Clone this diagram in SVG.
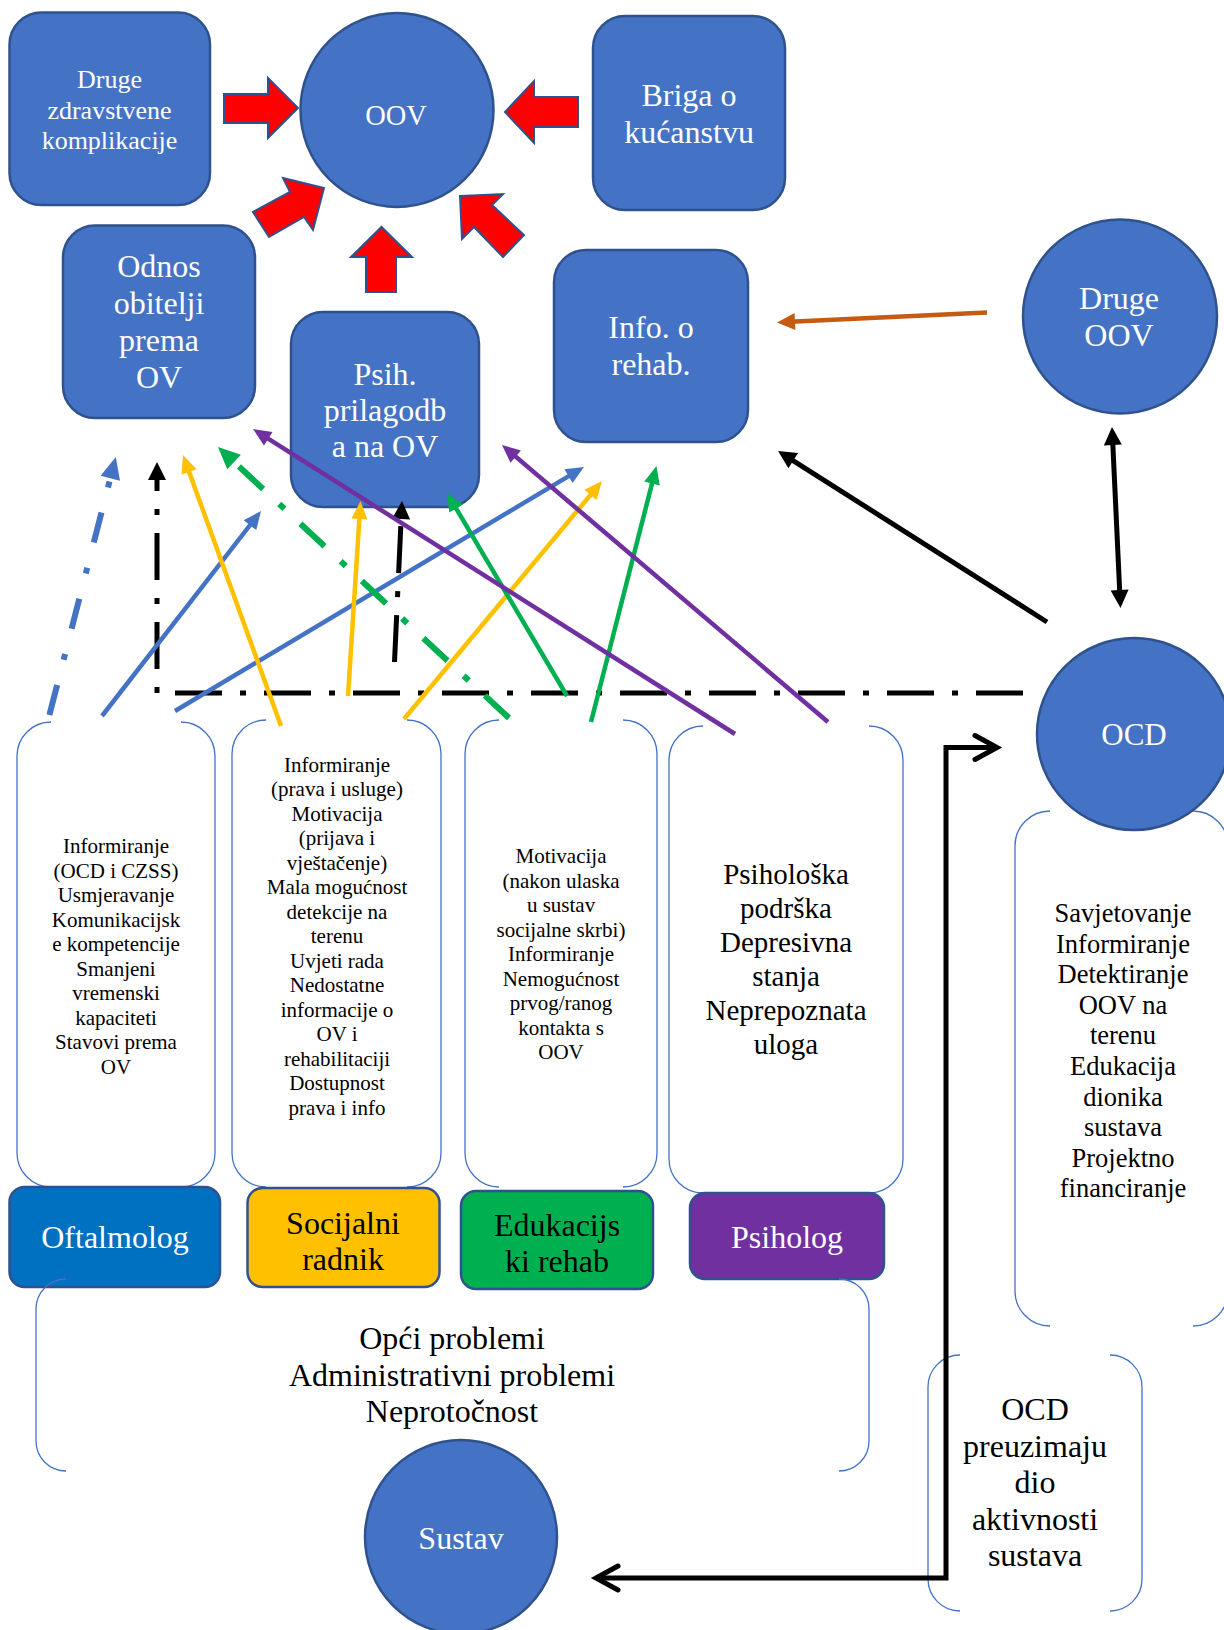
<svg xmlns="http://www.w3.org/2000/svg" width="1224" height="1630" viewBox="0 0 1224 1630">
<style>
.node{fill:#4472C4;stroke:#2F528F;stroke-width:2.5}
.wt{fill:#fff;font-family:"Liberation Serif","Times New Roman",serif;text-anchor:middle}
.bt{fill:#000;font-family:"Liberation Serif","Times New Roman",serif;text-anchor:middle}
.brk{fill:none;stroke:#4472C4;stroke-width:1.3}
.red{fill:#FF0000;stroke:#2F528F;stroke-width:2}
.ln{fill:none;stroke-width:4.5}
.dd{fill:none;stroke-width:5}
.ddc{fill:none;stroke-width:6}
</style>
<defs>
<marker id="hBlue" markerUnits="userSpaceOnUse" markerWidth="18" markerHeight="16" refX="10" refY="8" orient="auto" overflow="visible"><path d="M0,0 L18,8 L0,16 z" fill="#4472C4"/></marker>
<marker id="hBlueB" markerUnits="userSpaceOnUse" markerWidth="22" markerHeight="20" refX="12" refY="10" orient="auto" overflow="visible"><path d="M0,0 L22,10 L0,20 z" fill="#4472C4"/></marker>
<marker id="hYel" markerUnits="userSpaceOnUse" markerWidth="18" markerHeight="16" refX="10" refY="8" orient="auto" overflow="visible"><path d="M0,0 L18,8 L0,16 z" fill="#FFC000"/></marker>
<marker id="hGrn" markerUnits="userSpaceOnUse" markerWidth="18" markerHeight="16" refX="10" refY="8" orient="auto" overflow="visible"><path d="M0,0 L18,8 L0,16 z" fill="#00B050"/></marker>
<marker id="hGrnB" markerUnits="userSpaceOnUse" markerWidth="22" markerHeight="20" refX="12" refY="10" orient="auto" overflow="visible"><path d="M0,0 L22,10 L0,20 z" fill="#00B050"/></marker>
<marker id="hPur" markerUnits="userSpaceOnUse" markerWidth="18" markerHeight="16" refX="10" refY="8" orient="auto" overflow="visible"><path d="M0,0 L18,8 L0,16 z" fill="#7030A0"/></marker>
<marker id="hOra" markerUnits="userSpaceOnUse" markerWidth="18" markerHeight="17" refX="10" refY="8.5" orient="auto" overflow="visible"><path d="M0,0 L18,8.5 L0,17 z" fill="#C55A11"/></marker>
<marker id="hBlk" markerUnits="userSpaceOnUse" markerWidth="18" markerHeight="18" refX="10" refY="9" orient="auto-start-reverse" overflow="visible"><path d="M0,0 L18,9 L0,18 z" fill="#000"/></marker>
<marker id="chev" markerUnits="userSpaceOnUse" markerWidth="30" markerHeight="34" refX="26" refY="17" orient="auto-start-reverse" overflow="visible"><path d="M4,5 L26,17 L4,29" fill="none" stroke="#000" stroke-width="5" stroke-linecap="round"/></marker>
</defs>
<rect width="1224" height="1630" fill="#fff"/>

<g id="box-oftalmolog-text">
<path class="brk" d="M51,722 A34,34 0 0 0 17,756 L17,1153 A34,34 0 0 0 51,1187 M181,722 A34,34 0 0 1 215,756 L215,1153 A34,34 0 0 1 181,1187"/>
<text class="bt" font-size="21"><tspan x="116" y="853">Informiranje</tspan><tspan x="116" y="877.5">(OCD i CZSS)</tspan><tspan x="116" y="902">Usmjeravanje</tspan><tspan x="116" y="926.5">Komunikacijsk</tspan><tspan x="116" y="951">e kompetencije</tspan><tspan x="116" y="975.5">Smanjeni</tspan><tspan x="116" y="1000">vremenski</tspan><tspan x="116" y="1024.5">kapaciteti</tspan><tspan x="116" y="1049">Stavovi prema</tspan><tspan x="116" y="1073.5">OV</tspan></text>
</g>
<g id="box-socijalni-text">
<path class="brk" d="M266,720 A34,34 0 0 0 232,754 L232,1153 A34,34 0 0 0 266,1187 M407,720 A34,34 0 0 1 441,754 L441,1153 A34,34 0 0 1 407,1187"/>
<text class="bt" font-size="21"><tspan x="337" y="771.5">Informiranje</tspan><tspan x="337" y="796">(prava i usluge)</tspan><tspan x="337" y="820.5">Motivacija</tspan><tspan x="337" y="845">(prijava i</tspan><tspan x="337" y="869.5">vještačenje)</tspan><tspan x="337" y="894">Mala mogućnost</tspan><tspan x="337" y="918.5">detekcije na</tspan><tspan x="337" y="943">terenu</tspan><tspan x="337" y="967.5">Uvjeti rada</tspan><tspan x="337" y="992">Nedostatne</tspan><tspan x="337" y="1016.5">informacije o</tspan><tspan x="337" y="1041">OV i</tspan><tspan x="337" y="1065.5">rehabilitaciji</tspan><tspan x="337" y="1090">Dostupnost</tspan><tspan x="337" y="1114.5">prava i info</tspan></text>
</g>
<g id="box-edukacijski-text">
<path class="brk" d="M499,720 A34,34 0 0 0 465,754 L465,1153 A34,34 0 0 0 499,1187 M623,720 A34,34 0 0 1 657,754 L657,1153 A34,34 0 0 1 623,1187"/>
<text class="bt" font-size="21"><tspan x="561" y="863">Motivacija</tspan><tspan x="561" y="887.5">(nakon ulaska</tspan><tspan x="561" y="912">u sustav</tspan><tspan x="561" y="936.5">socijalne skrbi)</tspan><tspan x="561" y="961">Informiranje</tspan><tspan x="561" y="985.5">Nemogućnost</tspan><tspan x="561" y="1010">prvog/ranog</tspan><tspan x="561" y="1034.5">kontakta s</tspan><tspan x="561" y="1059">OOV</tspan></text>
</g>
<g id="box-psiholog-text">
<path class="brk" d="M703,726 A34,34 0 0 0 669,760 L669,1159 A34,34 0 0 0 703,1193 M869,726 A34,34 0 0 1 903,760 L903,1159 A34,34 0 0 1 869,1193"/>
<text class="bt" font-size="29"><tspan x="786" y="884">Psihološka</tspan><tspan x="786" y="918">podrška</tspan><tspan x="786" y="952">Depresivna</tspan><tspan x="786" y="986">stanja</tspan><tspan x="786" y="1020">Neprepoznata</tspan><tspan x="786" y="1054">uloga</tspan></text>
</g>
<g id="box-ocd-text">
<path class="brk" d="M1050,811 A35,35 0 0 0 1015,846 L1015,1291 A35,35 0 0 0 1050,1326 M1193,811 A35,35 0 0 1 1228,846 L1228,1291 A35,35 0 0 1 1193,1326"/>
<text class="bt" font-size="26.5"><tspan x="1123" y="922">Savjetovanje</tspan><tspan x="1123" y="952.6">Informiranje</tspan><tspan x="1123" y="983.2">Detektiranje</tspan><tspan x="1123" y="1013.8">OOV na</tspan><tspan x="1123" y="1044.4">terenu</tspan><tspan x="1123" y="1075">Edukacija</tspan><tspan x="1123" y="1105.6">dionika</tspan><tspan x="1123" y="1136.2">sustava</tspan><tspan x="1123" y="1166.8">Projektno</tspan><tspan x="1123" y="1197.4">financiranje</tspan></text>
</g>
<g id="box-ocd-preuzimaju">
<path class="brk" d="M960,1355 A32,32 0 0 0 928,1387 L928,1579 A32,32 0 0 0 960,1611 M1110,1355 A32,32 0 0 1 1142,1387 L1142,1579 A32,32 0 0 1 1110,1611"/>
<text class="bt" font-size="32"><tspan x="1035" y="1420">OCD</tspan><tspan x="1035" y="1456.5">preuzimaju</tspan><tspan x="1035" y="1493">dio</tspan><tspan x="1035" y="1529.5">aktivnosti</tspan><tspan x="1035" y="1566">sustava</tspan></text>
</g>

<g id="oftalmolog"><rect x="9.5" y="1187" width="210.5" height="100" rx="15" fill="#0070C0" stroke="#2F528F" stroke-width="2.5"/><text class="wt" font-size="32" x="115" y="1248">Oftalmolog</text></g>
<g id="socijalni-radnik"><rect x="247.5" y="1188" width="192" height="99" rx="15" fill="#FFC000" stroke="#2F528F" stroke-width="2.5"/><text class="bt" font-size="32"><tspan x="343" y="1233.5">Socijalni</tspan><tspan x="343" y="1270">radnik</tspan></text></g>
<g id="edukacijski-rehab"><rect x="461" y="1191" width="192" height="98" rx="15" fill="#00B050" stroke="#2F528F" stroke-width="2.5"/><text class="bt" font-size="32"><tspan x="557" y="1235.5">Edukacijs</tspan><tspan x="557" y="1272">ki rehab</tspan></text></g>
<g id="psiholog"><rect x="690" y="1193" width="194" height="86" rx="15" fill="#7030A0" stroke="#2F528F" stroke-width="2.5"/><text class="wt" font-size="32" x="787" y="1248">Psiholog</text></g>

<g id="box-opci-problemi">
<path class="brk" d="M66,1279 A30,30 0 0 0 36,1309 L36,1441 A30,30 0 0 0 66,1471 M839,1279 A30,30 0 0 1 869,1309 L869,1441 A30,30 0 0 1 839,1471"/>
<text class="bt" font-size="32"><tspan x="452" y="1349">Opći problemi</tspan><tspan x="452" y="1385.5">Administrativni problemi</tspan><tspan x="452" y="1422">Neprotočnost</tspan></text>
</g>

<g id="druge-zdravstvene"><rect class="node" x="9.5" y="12.5" width="200.5" height="192.5" rx="32"/><text class="wt" font-size="26"><tspan x="109.5" y="88">Druge</tspan><tspan x="109.5" y="118.5">zdravstvene</tspan><tspan x="109.5" y="149">komplikacije</tspan></text></g>
<g id="oov"><ellipse class="node" cx="397" cy="110" rx="96.5" ry="97"/><text class="wt" font-size="28.5" x="396" y="125">OOV</text></g>
<g id="briga"><rect class="node" x="593" y="16" width="192" height="194" rx="32"/><text class="wt" font-size="32"><tspan x="689" y="106">Briga o</tspan><tspan x="689" y="142.5">kućanstvu</tspan></text></g>
<g id="odnos"><rect class="node" x="63" y="225.5" width="192" height="192.5" rx="32"/><text class="wt" font-size="32"><tspan x="159" y="277">Odnos</tspan><tspan x="159" y="314">obitelji</tspan><tspan x="159" y="351">prema</tspan><tspan x="159" y="388">OV</tspan></text></g>
<g id="psih"><rect class="node" x="291" y="312" width="188" height="195" rx="32"/><text class="wt" font-size="32"><tspan x="385" y="385">Psih.</tspan><tspan x="385" y="421">prilagodb</tspan><tspan x="385" y="457">a na OV</tspan></text></g>
<g id="info"><rect class="node" x="554" y="250" width="194" height="192" rx="32"/><text class="wt" font-size="32"><tspan x="651" y="338">Info. o</tspan><tspan x="651" y="375">rehab.</tspan></text></g>
<g id="druge-oov"><ellipse class="node" cx="1120" cy="316.5" rx="97" ry="97"/><text class="wt" font-size="32"><tspan x="1119" y="309">Druge</tspan><tspan x="1119" y="346">OOV</tspan></text></g>
<g id="ocd"><ellipse class="node" cx="1134" cy="734" rx="97" ry="96"/><text class="wt" font-size="31" x="1134" y="745">OCD</text></g>
<g id="sustav"><ellipse class="node" cx="461" cy="1537" rx="96" ry="97"/><text class="wt" font-size="32" x="461" y="1549">Sustav</text></g>

<g id="connectors">
<polygon class="red" points="224,94 268,94 268,78 298,108 268,138 268,123 224,123"/>
<polygon class="red" points="578,97 534,97 534,81 505,112 534,143 534,127 578,127"/>
<polygon class="red" points="366,292 366,257 351,257 381.5,227 412,257 396,257 396,292"/>
<polygon class="red" points="253,212 290,192 283,178 324,188 313,230 304,217 269,237"/>
<polygon class="red" points="460,196 503,194 492,205 524,235 503,257 474,227 462,239"/>

<path class="dd" stroke="#000" stroke-dasharray="47 18 6 18" d="M1023,693 L157,693 L157,470" marker-end="url(#hBlk)"/>
<path class="ddc" stroke="#4472C4" stroke-dasharray="31 26 6 26" d="M49.4,715 L113.3,466.7" marker-end="url(#hBlueB)"/>
<path class="ln" stroke="#4472C4" d="M102,716 L256.1,517.3" marker-end="url(#hBlue)"/>
<path class="ln" stroke="#4472C4" d="M175,711 L577.1,471.1" marker-end="url(#hBlue)"/>
<path class="ln" stroke="#FFC000" d="M281,726 L185.7,462.5" marker-end="url(#hYel)"/>
<path class="ln" stroke="#FFC000" d="M348,696 L360,509" marker-end="url(#hYel)"/>
<path class="ln" stroke="#FFC000" d="M404,719 L596.9,487.2" marker-end="url(#hYel)"/>
<path class="dd" stroke="#000" stroke-dasharray="47 18 6 18" d="M394.5,662 L401.6,509" marker-end="url(#hBlk)"/>
<path class="ddc" stroke="#00B050" stroke-dasharray="33 22 7 22" d="M509,718 L225.3,453.8" marker-end="url(#hGrnB)"/>
<path class="ln" stroke="#00B050" d="M567,696 L451.1,499.9" marker-end="url(#hGrn)"/>
<path class="ln" stroke="#00B050" d="M591,722 L654.5,473.8" marker-end="url(#hGrn)"/>
<path class="ln" stroke="#7030A0" d="M735,734 L259.8,433.3" marker-end="url(#hPur)"/>
<path class="ln" stroke="#7030A0" d="M828,722 L508.1,450.2" marker-end="url(#hPur)"/>
<path class="dd" stroke="#000" d="M1047,622 L784.8,455.3" marker-end="url(#hBlk)"/>
<path class="dd" stroke="#000" d="M1112.4,435 L1120.1,600" marker-start="url(#hBlk)" marker-end="url(#hBlk)"/>
<path class="ln" stroke="#C55A11" stroke-width="5" d="M987,312.5 L785,322" marker-end="url(#hOra)"/>
<path class="dd" stroke="#000" d="M997,747.5 L946,747.5 L946,1578 L596,1578" marker-start="url(#chev)" marker-end="url(#chev)"/>
</g>
</svg>
